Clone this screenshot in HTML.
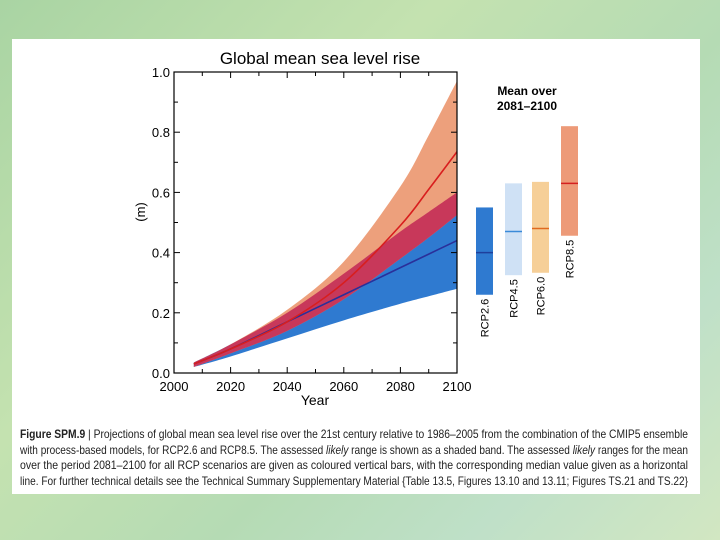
<!DOCTYPE html>
<html><head><meta charset="utf-8"><style>
html,body{margin:0;padding:0;width:720px;height:540px;overflow:hidden}
body{background:linear-gradient(135deg,#a9d4a3 0%,#c4e2b0 35%,#b5dbb4 60%,#bfe0c8 80%,#d2e7c2 100%);font-family:"Liberation Sans",sans-serif}
</style></head><body>
<svg width="720" height="540" xmlns="http://www.w3.org/2000/svg">
<rect x="12" y="39" width="688" height="455" fill="#fff"/>
<g id="chart"></g>
<g font-family="Liberation Sans Narrow, Liberation Sans, sans-serif" font-size="12" fill="#222">
<text x="20" y="438" textLength="668" lengthAdjust="spacingAndGlyphs"><tspan font-weight="bold">Figure SPM.9</tspan> | Projections of global mean sea level rise over the 21st century relative to 1986–2005 from the combination of the CMIP5 ensemble</text>
<text x="20" y="454" textLength="668" lengthAdjust="spacingAndGlyphs">with process-based models, for RCP2.6 and RCP8.5. The assessed <tspan font-style="italic">likely</tspan> range is shown as a shaded band. The assessed <tspan font-style="italic">likely</tspan> ranges for the mean</text>
<text x="20" y="469" textLength="668" lengthAdjust="spacingAndGlyphs">over the period 2081–2100 for all RCP scenarios are given as coloured vertical bars, with the corresponding median value given as a horizontal</text>
<text x="20" y="485" textLength="668" lengthAdjust="spacingAndGlyphs">line. For further technical details see the Technical Summary Supplementary Material {Table 13.5, Figures 13.10 and 13.11; Figures TS.21 and TS.22}</text>
</g>
</svg>
<script>
const years=[2007,2020,2040,2060,2080,2090,2100];
const rcp26Median=[0.03,0.08,0.17,0.26,0.35,0.395,0.44];
const rcp26Upper=[0.035,0.095,0.20,0.33,0.47,0.535,0.60];
const rcp26Lower=[0.02,0.055,0.115,0.175,0.23,0.255,0.28];
const rcp85Median=[0.03,0.08,0.17,0.30,0.49,0.61,0.735];
const rcp85Upper=[0.035,0.095,0.21,0.37,0.62,0.79,0.97];
const rcp85Lower=[0.02,0.065,0.14,0.245,0.38,0.45,0.525];
const barNames=["RCP2.6","RCP4.5","RCP6.0","RCP8.5"];
const barLow=[0.26,0.325,0.333,0.456];
const barHigh=[0.55,0.63,0.635,0.82];
const barMedian=[0.40,0.47,0.48,0.63];
const barFill=["#2f7ad0","#cfe1f5","#f6cf98","#ed9a78"];
const barLine=["#1f3f9c","#3a8ad8","#e06a20","#d42020"];
const yTicks=[0,0.2,0.4,0.6,0.8,1.0];
const xTicks=[2000,2020,2040,2060,2080,2100];

const NS="http://www.w3.org/2000/svg";
const g=document.getElementById('chart');
const L=174,R=457,T=72,B=373;
const xs=v=>L+(v-2000)/100*(R-L);
const ys=v=>B-v*(B-T);
function mk(tag,attrs,parent){const e=document.createElementNS(NS,tag);for(const k in attrs)e.setAttribute(k,attrs[k]);(parent||g).appendChild(e);return e;}
function smooth(xsA,ysA){let d="M"+xsA[0]+","+ysA[0];for(let i=0;i<xsA.length-1;i++){const x0=xsA[Math.max(i-1,0)],y0=ysA[Math.max(i-1,0)],x1=xsA[i],y1=ysA[i],x2=xsA[i+1],y2=ysA[i+1],x3=xsA[Math.min(i+2,xsA.length-1)],y3=ysA[Math.min(i+2,xsA.length-1)];d+=" C"+(x1+(x2-x0)/6)+","+(y1+(y2-y0)/6)+" "+(x2-(x3-x1)/6)+","+(y2-(y3-y1)/6)+" "+x2+","+y2;}return d;}
function band(up,lo){const px=years.map(xs);const d1=smooth(px,up.map(ys));const rx=px.slice().reverse(),ry=lo.map(ys).reverse();const d2=smooth(rx,ry).replace(/^M/," L");return d1+d2+" Z";}
const defs=mk('defs',{});
const cp=mk('clipPath',{id:'c85'},defs);
mk('path',{d:band(rcp85Upper,rcp85Lower)},cp);

const b26=mk('path',{d:band(rcp26Upper,rcp26Lower),fill:'#2f7ad0'});


const b85=mk('path',{d:band(rcp85Upper,rcp85Lower),fill:'#eda07c'});


const ov=mk('path',{d:band(rcp26Upper,rcp26Lower),fill:'#c8385a','clip-path':'url(#c85)'});


const m26=mk('path',{d:smooth(years.map(xs),rcp26Median.map(ys)),fill:'none',stroke:'#2a2f9a','stroke-width':1.6});


const m85=mk('path',{d:smooth(years.map(xs),rcp85Median.map(ys)),fill:'none',stroke:'#d81e1e','stroke-width':1.6});



const frame=mk('rect',{x:L,y:T,width:R-L,height:B-T,fill:'none',stroke:'#000','stroke-width':1.2});


yTicks.forEach(v=>{
 const y=ys(v);
 mk('line',{x1:L,x2:L+6,y1:y,y2:y,stroke:'#000'});mk('line',{x1:R,x2:R-6,y1:y,y2:y,stroke:'#000'});
 const t=mk('text',{x:L-4,y:y+5,'text-anchor':'end','font-size':13});t.textContent=v.toFixed(1);
 
 
});
for(let v=0.1;v<1;v+=0.2){const y=ys(v);mk('line',{x1:L,x2:L+4,y1:y,y2:y,stroke:'#000'});mk('line',{x1:R,x2:R-4,y1:y,y2:y,stroke:'#000'});}
xTicks.forEach(v=>{
 const x=xs(v);
 mk('line',{x1:x,x2:x,y1:B,y2:B-6,stroke:'#000'});mk('line',{x1:x,x2:x,y1:T,y2:T+6,stroke:'#000'});
 const t=mk('text',{x:x,y:B+18,'text-anchor':'middle','font-size':13});t.textContent=v;
 
 
});
for(let v=2010;v<2100;v+=20){const x=xs(v);mk('line',{x1:x,x2:x,y1:B,y2:B-4,stroke:'#000'});mk('line',{x1:x,x2:x,y1:T,y2:T+4,stroke:'#000'});}
let t=mk('text',{x:315,y:405,'text-anchor':'middle','font-size':14});t.textContent='Year';


t=mk('text',{x:0,y:0,'text-anchor':'middle','font-size':13,transform:'translate(145,212) rotate(-90)'});t.textContent='(m)';


t=mk('text',{x:320,y:64,'text-anchor':'middle','font-size':17});t.textContent='Global mean sea level rise';


t=mk('text',{x:527,y:95,'text-anchor':'middle','font-size':12,'font-weight':'bold'});t.textContent='Mean over';


t=mk('text',{x:527,y:110,'text-anchor':'middle','font-size':12,'font-weight':'bold'});t.textContent='2081–2100';


const bx=[476,505,532,561],bw=17;
barNames.forEach((n,i)=>{
 const r=mk('rect',{x:bx[i],y:ys(barHigh[i]),width:bw,height:ys(barLow[i])-ys(barHigh[i]),fill:barFill[i]});
 
 
 const l=mk('line',{x1:bx[i],x2:bx[i]+bw,y1:ys(barMedian[i]),y2:ys(barMedian[i]),stroke:barLine[i],'stroke-width':1.5});
 
 
 const tx=bx[i]+bw/2+4,ty=ys(barLow[i])+4;
 const lb=mk('text',{x:0,y:0,'text-anchor':'end','font-size':11,transform:'translate('+tx+','+ty+') rotate(-90)'});lb.textContent=n;
 
 
});
</script>
</body></html>
